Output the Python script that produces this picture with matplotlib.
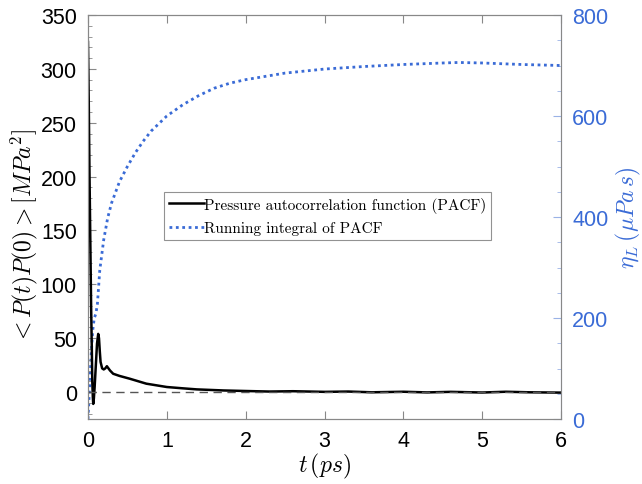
import matplotlib
matplotlib.use("Agg")
import matplotlib.pyplot as plt
from matplotlib.ticker import MultipleLocator

plt.rcParams['mathtext.fontset'] = 'cm'

# PACF (MPa^2) vs time (ps)
t_pacf = [0.0, 0.01, 0.02, 0.03, 0.04, 0.05, 0.055, 0.062, 0.067, 0.075, 0.085, 0.10, 0.115,
          0.13, 0.14, 0.15, 0.16, 0.18, 0.20, 0.22, 0.24, 0.26, 0.28, 0.32, 0.40, 0.53,
          0.74, 1.0, 1.2, 1.38, 1.72, 2.0, 2.3, 2.6, 3.0, 3.3, 3.6, 4.0, 4.3, 4.6,
          5.0, 5.3, 5.6, 6.0]
pacf = [325, 270, 200, 140, 80, 35, 10, -5, -11, -6, 5, 25, 45,
        54, 50, 38, 28, 22, 21, 22, 24, 22, 20, 17, 15, 12.4,
        7.8, 4.7, 3.5, 2.5, 1.5, 1.0, 0.5, 0.8, 0.2, 0.5, -0.2, 0.3, -0.3, 0.2,
        -0.4, 0.3, -0.2, -0.5]

# Running integral -> viscosity (micro Pa s)
t_int = [0.0, 0.02, 0.04, 0.06, 0.08, 0.10, 0.12, 0.15, 0.20, 0.25, 0.30, 0.40, 0.50,
         0.60, 0.70, 0.80, 1.0, 1.2, 1.4, 1.6, 1.8, 2.0, 2.5, 3.0, 3.5, 4.0, 4.5,
         4.7, 5.0, 5.5, 6.0]
eta = [0, 60, 125, 175, 200, 208, 228, 295, 355, 398, 428, 470, 500,
       527, 550, 570, 600, 622, 640, 655, 665, 672, 685, 693, 698, 702, 705,
       706, 705, 702, 700]

blue = '#3a6bd6'
fig = plt.figure(figsize=(6.42, 4.85), dpi=100)
ax = fig.add_axes([0.137, 0.134, 0.737, 0.833])
ax2 = ax.twinx()

l1, = ax.plot(t_pacf, pacf, color='black', lw=1.8,
              label='Pressure autocorrelation function (PACF)')
ax.axhline(0, color='#555555', ls=(0, (6, 4)), lw=1.0)
l2, = ax2.plot(t_int, eta, color=blue, ls=(0, (1, 1.3)), lw=2.0,
               label='Running integral of PACF')

ax.set_xlim(0, 6)
ax.set_ylim(-25, 350)
ax2.set_ylim(0, 800)
ax.set_xticks(range(0, 7))
ax.set_yticks(range(0, 351, 50))
ax.yaxis.set_minor_locator(MultipleLocator(10))
ax2.set_yticks(range(0, 801, 200))
ax2.yaxis.set_minor_locator(MultipleLocator(50))

for a in (ax, ax2):
    for sp in a.spines.values():
        sp.set_color('#888888')
ax2.spines['right'].set_color('#9ab2e6')

ax.tick_params(axis='both', which='both', direction='in', top=True, labelsize=15.5,
               color='#888888', labelfontfamily='Liberation Sans')
ax.tick_params(axis='y', which='major', length=6, pad=8)
ax.tick_params(axis='y', which='minor', length=3)
ax.tick_params(axis='x', which='major', length=6, pad=8)
ax2.tick_params(axis='y', which='both', direction='in', labelsize=15.5, color='#9ab2e6',
                labelcolor=blue, labelfontfamily='Liberation Sans')
ax2.tick_params(axis='y', which='major', length=6, pad=8)
ax2.tick_params(axis='y', which='minor', length=3)

ax.set_xlabel(r'$t\,(ps)$', fontsize=17, labelpad=0)
ax.set_ylabel(r'$<P(t)P(0)>[MPa^2]$', fontsize=17)
ax.yaxis.set_label_coords(-0.102, 0.455)
ax2.set_ylabel(r'$\eta_L\,(\mu Pa\,s)$', fontsize=17, color=blue, labelpad=4)

leg = ax.legend(handles=[l1, l2], loc='upper left', bbox_to_anchor=(0.1607, 0.562),
                prop={'family': 'cmr10', 'size': 11}, frameon=True, fancybox=False,
                edgecolor='#777777', handlelength=2.3, handletextpad=0.05,
                borderpad=0.3, labelspacing=0.55, borderaxespad=0)
leg.get_frame().set_linewidth(0.8)
ax.set_zorder(ax2.get_zorder() + 1)
ax.patch.set_visible(False)

fig.savefig('out.png', dpi=100)
